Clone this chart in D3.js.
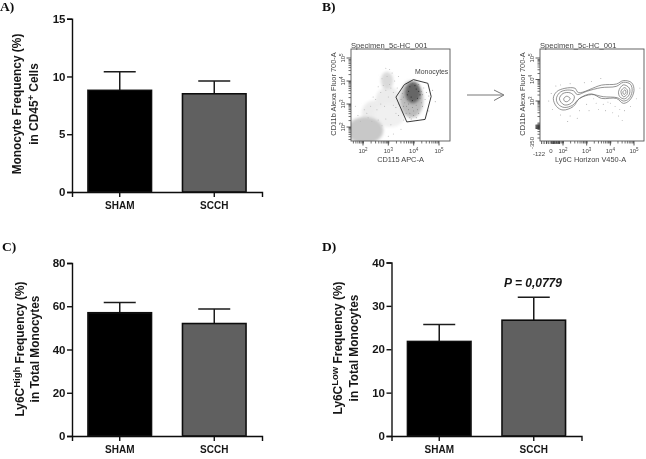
<!DOCTYPE html>
<html>
<head>
<meta charset="utf-8">
<script src="https://cdn.jsdelivr.net/npm/d3@7"></script>
<style>
  html, body { margin: 0; padding: 0; background: #fff; }
  svg { display: block; }
  text { font-family: "Liberation Sans", Arial, sans-serif; }
  .barText { font-weight: bold; fill: #161616; }
  .panelLabel { font-family: "Liberation Serif", serif; font-weight: bold; font-size: 13.5px; fill: #111; }
  .flowText { font-size: 7.2px; fill: #444; }
</style>
</head>
<body>
<div id="chart"></div>
<script>
// bar panels: mean and top of the error bar
var groups = ["SHAM", "SCCH"];
var meanA = [8.8, 8.5];
var topA = [10.4, 9.6];
var ticksA = [0, 5, 10, 15];
var meanC = [57, 52];
var topC = [61.7, 58.7];
var ticksC = [0, 20, 40, 60, 80];
var meanD = [21.8, 26.7];
var topD = [25.7, 32];
var ticksD = [0, 10, 20, 30, 40];

// flow plots, everything in log10 decades
var flowTitle = "Specimen_5c-HC_001";
var decadeTicks = [2, 3, 4, 5];
var gate = [[3.30,3.30],[3.63,3.84],[3.99,4.06],[4.56,3.90],[4.69,3.33],[4.45,2.33],[3.73,2.22]];
// x, y, rx, ry, tone
var clouds = [
  [2.45,2.6,0.5,0.55,"#ececec"],
  [3.0,3.15,0.5,0.6,"#ececec"],
  [3.05,2.5,0.6,0.5,"#f0f0f0"],
  [2.95,4.02,0.24,0.38,"#dadada"],
  [2.08,1.85,0.72,0.58,"#c8c8c8"],
  [3.92,3.2,0.46,0.8,"#bcbcbc"],
  [3.97,3.5,0.32,0.48,"#666666"]
];
var grayDots = [[2.3,2.9],[2.5,3.2],[2.7,3.5],[2.9,3.6],[2.2,2.4],[2.6,2.3],[3.1,2.1],[3.3,2.6],[3.4,3.0],[3.2,3.5],[3.15,4.35],[3.05,4.5],[2.8,3.8],[2.6,3.75],[2.4,3.3],[2.05,2.75],[1.8,2.5],[1.7,2.9],[3.5,1.9],[3.2,1.7],[3.6,2.3],[3.35,3.7],[3.0,1.6],[2.85,2.9],[2.55,2.75],[3.25,4.0],[3.4,4.2],[2.9,4.55],[2.75,4.1],[3.05,3.85],[2.95,4.2],[3.1,3.7],[2.35,2.25],[2.75,2.05],[2.9,2.35],[2.15,2.6],[1.9,2.25],[2.7,3.0],[3.0,3.3],[3.2,2.95]];
var gateDots = [[3.5,3.2],[3.6,2.9],[3.7,2.6],[3.85,2.4],[4.0,2.5],[4.2,2.6],[4.35,2.9],[4.45,3.2],[4.5,3.5],[4.4,3.7],[4.2,3.85],[3.95,3.9],[3.7,3.7],[3.55,3.45],[3.8,2.75],[3.95,2.85],[4.1,2.95],[4.25,3.25],[3.65,3.05],[3.75,3.2],[4.3,3.55],[4.1,2.4],[3.9,2.35],[4.6,3.35],[4.75,3.6],[4.85,3.1],[4.6,2.7],[3.4,2.5],[3.3,2.85],[3.8,3.0],[3.9,3.1],[4.05,3.15],[3.72,2.9],[4.0,2.7],[4.15,2.75],[3.85,2.6],[4.3,3.05],[4.35,3.4],[3.6,3.3]];
var blobSpecks = [[3.75,3.4],[3.85,3.75],[4.05,3.8],[4.2,3.55],[4.15,3.25],[3.95,3.15],[3.8,3.55],[4.1,3.65],[3.9,3.3],[4.25,3.4]];
var monoContours = [
  [[1.59,3.12],[1.73,3.43],[2.08,3.59],[2.51,3.59],[2.65,3.39],[3.63,3.74],[4.26,3.79],[4.55,3.95],[4.9,3.85],[5.0,3.48],[4.83,3.05],[4.55,2.89],[4.26,3.12],[3.63,3.12],[3.21,3.33],[2.7,3.12],[2.43,2.74],[2.0,2.58],[1.73,2.74]],
  [[1.72,3.1],[1.85,3.38],[2.1,3.5],[2.45,3.47],[2.6,3.3],[3.0,3.45],[3.6,3.62],[4.25,3.68],[4.55,3.87],[4.85,3.78],[4.92,3.45],[4.78,3.1],[4.55,3.0],[4.3,3.15],[3.7,3.2],[3.2,3.3],[2.7,3.12],[2.4,2.8],[2.05,2.7],[1.8,2.85]],
  [[1.85,3.1],[2.0,3.35],[2.3,3.38],[2.48,3.2],[2.35,2.9],[2.05,2.82]],
  [[2.03,3.1],[2.15,3.22],[2.3,3.12],[2.2,2.98],[2.08,2.98]],
  [[4.35,3.45],[4.55,3.75],[4.8,3.6],[4.8,3.3],[4.6,3.1],[4.4,3.2]],
  [[4.45,3.45],[4.6,3.62],[4.72,3.5],[4.7,3.3],[4.55,3.2]],
  [[4.53,3.42],[4.62,3.52],[4.66,3.4],[4.58,3.3]]
];
var monoDots = [[1.4,3.0],[1.5,3.35],[1.7,3.7],[1.9,3.75],[2.3,3.8],[2.9,3.85],[3.2,3.9],[3.6,4.05],[1.55,2.6],[1.9,2.35],[2.3,2.3],[2.7,2.55],[3.0,2.85],[3.4,2.9],[3.7,2.85],[4.0,2.9],[4.2,2.75],[4.4,2.6],[3.8,2.55],[4.1,2.45],[4.35,2.3],[4.6,2.55],[4.85,2.75],[5.1,3.1],[5.25,3.6],[3.5,2.6],[3.1,2.55],[2.6,2.2],[2.2,2.05],[4.5,2.1],[3.9,2.95],[3.3,3.1]];
// dense marks around zero on the biexponential axes of the contour plot
var zeroTicksX = [1.1,1.2,1.3,1.4,1.5,1.55,1.6,1.65,1.7,1.75,1.8,1.85];
var zeroTicksY = [1.72,1.76,1.8,1.84,1.88];

var svg = d3.select("#chart").append("svg").attr("width", 646).attr("height", 459);
var defs = svg.append("defs");
defs.append("filter").attr("id", "soft").append("feGaussianBlur").attr("stdDeviation", 0.4);
defs.append("filter").attr("id", "cloud").append("feGaussianBlur").attr("stdDeviation", 1.8);
defs.append("clipPath").attr("id", "frame1").append("rect").attr("x", 351).attr("y", 49).attr("width", 99).attr("height", 92);

var root = svg.append("g").attr("filter", "url(#soft)");

function barPanel(p) {
  var x = d3.scaleBand().domain(groups).range([p.left, p.left + 190]).paddingInner(0.328).paddingOuter(0.169);
  var y = d3.scaleLinear().domain([0, p.ticks[p.ticks.length - 1]]).range([p.bottom, p.top]);
  var g = root.append("g");
  var rows = groups.map(function (d, i) { return { name: d, mean: p.mean[i], top: p.err[i] }; });

  // error bars first, the bar covers the lower part
  var err = g.selectAll(".err").data(rows).enter().append("g").attr("stroke", "#1a1a1a").attr("stroke-width", 1.5);
  err.append("line")
    .attr("x1", function (d) { return x(d.name) + x.bandwidth() / 2; })
    .attr("x2", function (d) { return x(d.name) + x.bandwidth() / 2; })
    .attr("y1", function (d) { return y(d.mean); })
    .attr("y2", function (d) { return y(d.top); });
  err.append("line")
    .attr("x1", function (d) { return x(d.name) + x.bandwidth() / 2 - 16; })
    .attr("x2", function (d) { return x(d.name) + x.bandwidth() / 2 + 16; })
    .attr("y1", function (d) { return y(d.top); })
    .attr("y2", function (d) { return y(d.top); });

  g.selectAll(".bar").data(rows).enter().append("rect")
    .attr("x", function (d) { return x(d.name); })
    .attr("y", function (d) { return y(d.mean); })
    .attr("width", x.bandwidth())
    .attr("height", function (d) { return y(0) - y(d.mean); })
    .attr("fill", function (d, i) { return i == 0 ? "#000" : "#616161"; })
    .attr("stroke", "#111")
    .attr("stroke-width", 1.6);

  var yAxis = g.append("g").attr("transform", "translate(" + p.left + ",0)")
    .call(d3.axisLeft(y).tickValues(p.ticks).tickSize(5).tickPadding(1.5));
  var xAxis = g.append("g").attr("transform", "translate(0," + p.bottom + ")")
    .call(d3.axisBottom(x).tickSize(5).tickPadding(5));
  [yAxis, xAxis].forEach(function (a) {
    a.selectAll("path").attr("stroke", "#111").attr("stroke-width", 1.4);
    a.selectAll("line").attr("stroke", "#111").attr("stroke-width", 1.4);
    a.selectAll("text").attr("class", "barText");
  });
  yAxis.selectAll("text").style("font-size", "11.5px");
  xAxis.selectAll("text").style("font-size", "10px");

  p.title.forEach(function (parts, i) {
    var t = g.append("text").attr("class", "barText").attr("text-anchor", "middle")
      .style("font-size", "11.9px")
      .attr("transform", "translate(" + p.titleX[i] + "," + p.titleY + ") rotate(-90)");
    var raised = false;
    parts.forEach(function (s) {
      var sup = s.charAt(0) == "^";
      t.append("tspan")
        .attr("dy", sup ? -4 : (raised ? 4 : 0))
        .style("font-size", sup ? "9.5px" : null)
        .text(sup ? s.slice(1) : s);
      raised = sup;
    });
  });

  g.append("text").attr("class", "panelLabel").attr("x", p.labelX).attr("y", p.labelY).text(p.label);
}

barPanel({ label: "A)", labelX: 0, labelY: 11, left: 72, top: 18.7, bottom: 192, mean: meanA, err: topA, ticks: ticksA,
  title: [["Monocyte Frequency  (%)"], ["in CD45", "^+", " Cells"]], titleX: [21, 38], titleY: 104 });
barPanel({ label: "C)", labelX: 2, labelY: 251, left: 72, top: 263, bottom: 436, mean: meanC, err: topC, ticks: ticksC,
  title: [["Ly6C", "^High", " Frequency (%)"], ["in Total Monocytes"]], titleX: [24, 39], titleY: 349 });
barPanel({ label: "D)", labelX: 322, labelY: 251, left: 391.5, top: 262.5, bottom: 436, mean: meanD, err: topD, ticks: ticksD,
  title: [["Ly6C", "^Low", " Frequency (%)"], ["in Total Monocytes"]], titleX: [342, 358], titleY: 348 });

root.append("text").attr("class", "barText").attr("text-anchor", "middle")
  .attr("x", 533).attr("y", 286.5)
  .style("font-size", "12px").style("font-style", "italic")
  .text("P = 0,0779");
root.append("text").attr("class", "panelLabel").attr("x", 322).attr("y", 11).text("B)");

function flowFrame(p) {
  var g = root.append("g");
  var x = d3.scaleLinear().domain([2, 5]).range(p.xRange);
  var y = d3.scaleLinear().domain(p.yDomain).range(p.yRange);
  var minor = [];
  decadeTicks.forEach(function (d) {
    d3.range(1, 10).forEach(function (m) { minor.push(d - 1 + Math.log10(m)); });
  });
  var xAxis = d3.axisBottom(x).tickValues(minor.filter(function (v) { return x(v) > p.x0 && x(v) < p.x0 + p.w; })).tickSize(2.5).tickFormat("");
  var yAxis = d3.axisLeft(y).tickValues(minor.filter(function (v) { return y(v) > p.y0 && y(v) < p.y0 + p.h; })).tickSize(2.5).tickFormat("");
  var ax = g.append("g").attr("transform", "translate(0," + (p.y0 + p.h) + ")").call(xAxis);
  var ay = g.append("g").attr("transform", "translate(" + p.x0 + ",0)").call(yAxis);
  [ax, ay].forEach(function (a) {
    a.selectAll("path").remove();
    a.selectAll("line").attr("stroke", "#333").attr("stroke-width", 0.7);
  });
  // longer marks on the decades
  g.selectAll(".dx").data(decadeTicks).enter().append("line")
    .attr("x1", function (d) { return x(d); }).attr("x2", function (d) { return x(d); })
    .attr("y1", p.y0 + p.h).attr("y2", p.y0 + p.h + 4.5).attr("stroke", "#333").attr("stroke-width", 0.8);
  g.selectAll(".dy").data(decadeTicks.filter(function (d) { return d >= p.firstY; })).enter().append("line")
    .attr("y1", function (d) { return y(d); }).attr("y2", function (d) { return y(d); })
    .attr("x1", p.x0).attr("x2", p.x0 - 4.5).attr("stroke", "#333").attr("stroke-width", 0.8);

  g.selectAll(".lx").data(decadeTicks).enter().append("text")
    .attr("class", "flowText").attr("text-anchor", "middle").style("font-size", "6px")
    .attr("x", function (d) { return x(d); }).attr("y", p.y0 + p.h + 12)
    .html(function (d) { return '10<tspan dy="-2.5" font-size="4.5">' + d + "</tspan>"; });
  g.selectAll(".ly").data(decadeTicks.filter(function (d) { return d >= p.firstY; })).enter().append("text")
    .attr("class", "flowText").attr("text-anchor", "middle").style("font-size", "6px")
    .attr("transform", function (d) { return "translate(" + (p.x0 - 6) + "," + y(d) + ") rotate(-90)"; })
    .html(function (d) { return '10<tspan dy="-2.5" font-size="4.5">' + d + "</tspan>"; });

  g.append("text").attr("class", "flowText").attr("x", p.x0).attr("y", p.y0 - 1.5).style("font-size", "7.6px").text(flowTitle);
  g.append("text").attr("class", "flowText").attr("text-anchor", "middle")
    .attr("x", p.x0 + p.w / 2 + p.xLabelShift).attr("y", p.y0 + p.h + 20.5).style("font-size", "7.4px").text(p.xLabel);
  g.append("text").attr("class", "flowText").attr("text-anchor", "middle").style("font-size", "7.4px")
    .attr("transform", "translate(" + (p.x0 - 15.5) + "," + (p.y0 + p.h / 2 - 1) + ") rotate(-90)").text(p.yLabel);
  return { g: g, x: x, y: y };
}

// scatter with the gate
var f1 = flowFrame({ x0: 351, y0: 49, w: 99, h: 92, xRange: [363, 439], yDomain: [2, 5], yRange: [127, 58], firstY: 2,
  xLabel: "CD115 APC-A", xLabelShift: 0, yLabel: "CD11b Alexa Fluor 700-A" });
var inner1 = f1.g.append("g").attr("clip-path", "url(#frame1)");
inner1.append("g").attr("filter", "url(#cloud)").selectAll("ellipse").data(clouds).enter().append("ellipse")
  .attr("cx", function (d) { return f1.x(d[0]); })
  .attr("cy", function (d) { return f1.y(d[1]); })
  .attr("rx", function (d) { return f1.x(d[0] + d[2]) - f1.x(d[0]); })
  .attr("ry", function (d) { return f1.y(d[1] - d[3]) - f1.y(d[1]); })
  .attr("fill", function (d) { return d[4]; });
inner1.selectAll(".gd").data(grayDots).enter().append("circle")
  .attr("cx", function (d) { return f1.x(d[0]); }).attr("cy", function (d) { return f1.y(d[1]); })
  .attr("r", 0.5).attr("fill", "#b5b5b5");
inner1.selectAll(".md").data(gateDots).enter().append("circle")
  .attr("cx", function (d) { return f1.x(d[0]); }).attr("cy", function (d) { return f1.y(d[1]); })
  .attr("r", 0.45).attr("fill", "#666");
inner1.selectAll(".bs").data(blobSpecks).enter().append("circle")
  .attr("cx", function (d) { return f1.x(d[0]); }).attr("cy", function (d) { return f1.y(d[1]); })
  .attr("r", 0.6).attr("fill", "#2e2e2e");
f1.g.append("path").datum(gate)
  .attr("d", d3.line().x(function (d) { return f1.x(d[0]); }).y(function (d) { return f1.y(d[1]); }).curve(d3.curveLinearClosed))
  .attr("fill", "none").attr("stroke", "#222").attr("stroke-width", 0.9);
f1.g.append("rect").attr("x", 351).attr("y", 49).attr("width", 99).attr("height", 92)
  .attr("fill", "none").attr("stroke", "#555").attr("stroke-width", 0.9);
f1.g.append("text").attr("class", "flowText").attr("x", 415).attr("y", 73.5).style("font-size", "6.9px").text("Monocytes");

// contour plot
var f2 = flowFrame({ x0: 540, y0: 49, w: 104, h: 92, xRange: [563, 634], yDomain: [3, 5], yRange: [101, 58], firstY: 3,
  xLabel: "Ly6C Horizon V450-A", xLabelShift: -1.5, yLabel: "CD11b Alexa Fluor 700-A" });
var contourLine = d3.line().x(function (d) { return f2.x(d[0]); }).y(function (d) { return f2.y(d[1]); }).curve(d3.curveCatmullRomClosed);
f2.g.selectAll(".ct").data(monoContours).enter().append("path")
  .attr("d", contourLine).attr("fill", "none").attr("stroke", "#666").attr("stroke-width", 0.7);
f2.g.selectAll(".od").data(monoDots).enter().append("circle")
  .attr("cx", function (d) { return f2.x(d[0]); }).attr("cy", function (d) { return f2.y(d[1]); })
  .attr("r", 0.45).attr("fill", "#777");
f2.g.selectAll(".zx").data(zeroTicksX).enter().append("line")
  .attr("x1", function (d) { return f2.x(d); }).attr("x2", function (d) { return f2.x(d); })
  .attr("y1", 141).attr("y2", 144).attr("stroke", "#222").attr("stroke-width", 0.8);
f2.g.selectAll(".zy").data(zeroTicksY).enter().append("line")
  .attr("y1", function (d) { return f2.y(d); }).attr("y2", function (d) { return f2.y(d); })
  .attr("x1", 540).attr("x2", 535.5).attr("stroke", "#222").attr("stroke-width", 0.8);
f2.g.append("rect").attr("x", 540).attr("y", 49).attr("width", 104).attr("height", 92)
  .attr("fill", "none").attr("stroke", "#555").attr("stroke-width", 0.9);
f2.g.append("text").attr("class", "flowText").attr("x", 551).attr("y", 153).attr("text-anchor", "middle").style("font-size", "6px").text("0");
f2.g.append("text").attr("class", "flowText").attr("x", 539).attr("y", 156).attr("text-anchor", "middle").style("font-size", "6px").text("-122");
f2.g.append("text").attr("class", "flowText").attr("text-anchor", "middle").style("font-size", "6px")
  .attr("transform", "translate(534,143) rotate(-90)").text("-350");

// arrow between the two plots
var arrow = root.append("g").attr("fill", "none").attr("stroke", "#777").attr("stroke-width", 1);
arrow.append("line").attr("x1", 467).attr("x2", 503).attr("y1", 95).attr("y2", 95);
arrow.append("polyline").attr("points", "494,90 504,95 494,100.5");
</script>
</body>
</html>
